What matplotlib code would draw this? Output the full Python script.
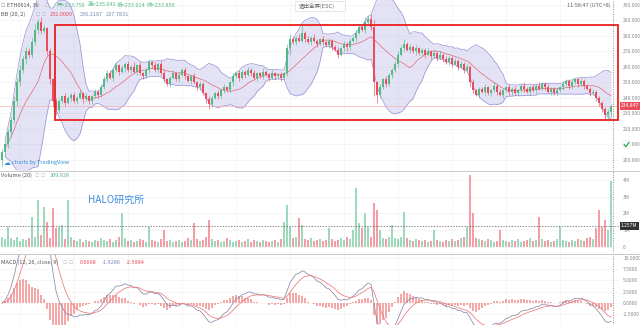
import numpy as np
import pandas as pd
import matplotlib
matplotlib.use("Agg")
import matplotlib.pyplot as plt
from matplotlib.patches import Rectangle, FancyBboxPatch
from matplotlib.lines import Line2D
from matplotlib.path import Path

plt.rcParams['font.family'] = ['Noto Sans CJK SC', 'DejaVu Sans']
plt.rcParams['axes.unicode_minus'] = False

# ---------------- data ----------------
closes = [
    # rally and first drop
    205, 210, 218, 226, 238, 250, 258, 265, 270, 268, 276, 284, 289, 283, 285, 270, 252, 238,
    # base around 240
    232, 238, 241, 237, 240, 242, 238, 240, 243, 239, 241, 238, 241, 244, 242,
    # climb
    247, 252, 256, 253, 258, 261, 257, 259, 262, 258, 260,
    # range 250-263
    257, 261, 256, 254, 258, 263, 261, 258, 262, 256, 252, 249, 253, 256, 252, 255, 258, 254,
    251, 254, 250, 247, 249,
    # dip
    243, 239, 236, 240, 243, 241, 245, 247, 245, 250,
    # range 253-258
    254, 256, 253, 257, 255, 258, 256, 253, 256, 254, 257, 255, 253, 256, 254, 255, 253, 256,
    # jump and plateau near 277
    272, 278, 276, 279, 277, 282, 278, 276, 279, 277, 275, 278, 276, 274, 277, 273, 271, 268,
    272, 275, 273, 277, 279,
    # push up and crash
    282, 286, 284, 289, 291, 286, 250,
    # recovery
    242, 247, 252, 249, 255, 258, 262, 268, 272,
    # slow fade 275 -> 258
    275, 271, 273, 270, 272, 269, 271, 268, 270, 267, 269, 266, 268, 265, 263, 266, 262, 264,
    260, 262, 258, 260, 250,
    # range 242-252
    245, 242, 246, 244, 247, 243, 245, 248, 244, 242, 245, 247, 244, 246, 243, 245, 248, 246,
    244, 247, 245, 248, 246, 249, 247, 244, 246, 243, 245, 247, 249, 251, 248, 250, 252, 249,
    251, 248, 246,
    # final decline
    243, 244, 240, 237, 233, 229, 231, 234.847]
first_open = 200
upper_wick = ("2322333232 3423212121 1211212121 1212222121 2121312112 1212211212 "
              "1211212112 1121211212 1121211211 2112133212 6121211212 1121212122 "
              "2323412121 1222312121 1121212121 1212121211 1211212112 1211211212 "
              "1121121211 2112111211 1121")
lower_wick = ("4323232232 2232123432 1212121212 2121121212 1212121212 2121212112 "
              "1212122123 2121211212 1212121212 1212124121 1212121212 2121232121 "
              "1212952121 2121212121 1212121212 2121213212 1212121212 2121212121 "
              "1212121212 2121212122 2323")
volumes_m = [0.6, 0.5, 1.2, 0.55, 0.4, 0.6, 0.35, 0.5, 0.4, 0.55,
             1.8, 0.6, 2.8, 0.7, 2.4, 1.5, 0.55, 2.3, 1.1, 1.2,
             1.3, 0.5, 2.8, 0.6, 0.4, 0.35, 0.5, 0.3, 0.4, 0.35,
             0.3, 0.4, 0.35, 0.55, 0.4, 0.35, 0.5, 0.3, 0.4, 0.6,
             2.0, 0.55, 0.35, 0.4, 0.3, 0.35, 0.5, 0.4, 0.3, 1.2,
             0.4, 0.35, 0.3, 0.5, 1.0, 0.35, 0.4, 0.3, 0.35, 0.4,
             0.3, 0.35, 0.55, 0.4, 1.4, 0.5, 0.35, 0.4, 0.6, 1.6,
             0.5, 0.35, 0.4, 0.3, 0.35, 0.55, 0.4, 0.3, 0.35, 0.4,
             0.3, 0.35, 0.5, 0.3, 0.4, 0.35, 0.3, 0.4, 0.35, 0.3,
             0.35, 0.4, 0.3, 0.5, 1.5, 2.5, 1.2, 0.55, 0.6, 1.7,
             1.3, 0.5, 0.4, 0.55, 0.35, 0.4, 0.5, 0.35, 0.4, 1.1,
             0.5, 0.35, 0.4, 0.55, 0.4, 0.6, 0.5, 1.0, 3.5, 1.4,
             1.1, 2.0, 1.2, 0.6, 2.6, 2.2, 1.0, 0.55, 0.5, 0.6,
             1.3, 0.55, 0.5, 0.6, 2.1, 0.55, 0.4, 0.35, 0.5, 0.4,
             0.35, 0.4, 0.3, 0.35, 1.0, 0.4, 0.35, 0.3, 0.4, 0.35,
             0.5, 0.35, 0.4, 0.55, 0.6, 1.2, 4.3, 2.0, 0.55, 0.5,
             0.4, 0.35, 0.5, 0.4, 0.3, 0.35, 1.0, 0.4, 0.35, 0.3,
             0.4, 0.35, 0.5, 0.3, 0.35, 0.4, 0.55, 0.35, 0.4, 1.8,
             0.5, 0.35, 0.4, 0.3, 0.35, 0.5, 1.2, 0.4, 0.35, 0.3,
             0.4, 0.35, 0.5, 0.4, 0.35, 0.55, 0.6, 0.5, 1.1, 2.2,
             1.2, 1.6, 1.0, 3.9]

price_ticks = [200, 210, 220, 230, 240, 250, 260, 270, 280, 290, 300]
vol_ticks = [0, 1, 2, 3, 4]
macd_ticks = [-2.5, 0, 2.5, 5, 7.5, 10]
box_low, box_high, box_start = 226.0, 287.0, 17.7
crosshair_vol = 1.257
last_price = 234.847
# each drawn candle spans ~1.5 bars of the source chart, so the
# indicator windows are scaled to cover the same stretch of time
bb_window, bb_mult = 13, 2
macd_fast, macd_slow, macd_sig = 8, 17, 6

# ---------------- derived series ----------------
c = np.array(closes, dtype=float)
o = np.concatenate([[first_open], c[:-1]])
uw = np.array([int(ch) for ch in upper_wick.replace(' ', '')], dtype=float)
lw = np.array([int(ch) for ch in lower_wick.replace(' ', '')], dtype=float)
h = np.maximum(o, c) + uw
l = np.minimum(o, c) - lw
v = np.array(volumes_m)
n = len(c)
idx = np.arange(n)
up = c >= o

s = pd.Series(c)
bb_mid = s.rolling(bb_window, min_periods=2).mean()
bb_std = s.rolling(bb_window, min_periods=2).std(ddof=0)
bb_up = bb_mid + bb_mult * bb_std
bb_lo = bb_mid - bb_mult * bb_std

ema_f = s.ewm(span=macd_fast, adjust=False).mean()
ema_s = s.ewm(span=macd_slow, adjust=False).mean()
macd = ema_f - ema_s
signal = macd.ewm(span=macd_sig, adjust=False).mean()
hist = macd - signal

UP = '#53b987'
DN = '#eb4d5c'
GRID = '#f3f3f3'
LBL = '#8a8a8a'

W, H = 640, 325
fig = plt.figure(figsize=(6.4, 3.25), dpi=100)
fig.patch.set_facecolor('white')


def px_axes(top, bottom, left=0, right=619):
    return fig.add_axes([left / W, 1 - bottom / H, (right - left) / W, (bottom - top) / H])


ax1 = px_axes(0, 170)
ax2 = px_axes(171, 253)
ax3 = px_axes(254, 325)

xlim = (-0.67, 205.67)
for ax in (ax1, ax2, ax3):
    ax.set_xlim(*xlim)
    ax.set_facecolor('white')
    for sp in ax.spines.values():
        sp.set_visible(False)
    ax.yaxis.tick_right()
    ax.tick_params(axis='y', length=0, pad=3, labelsize=3.6, labelcolor=LBL)
    ax.tick_params(axis='x', length=0, labelbottom=False)
    ax.set_xticks(np.arange(6, n, 18))
    ax.grid(True, color=GRID, lw=0.5)
    ax.set_axisbelow(True)

# ---- price panel ----
ax1.set_ylim(193.5, 303.2)
ax1.set_yticks(price_ticks)
ax1.set_yticklabels([f'{t:.3f}' for t in price_ticks])
ax1.fill_between(idx, bb_lo, bb_up, color='#a8a4e0', alpha=0.3, lw=0, zorder=1)
ax1.plot(idx, bb_up, color='#9490d8', lw=0.5, zorder=2)
ax1.plot(idx, bb_lo, color='#9490d8', lw=0.5, zorder=2)
ax1.plot(idx, bb_mid, color='#e06a78', lw=0.5, zorder=2)
colors = np.where(up, UP, DN)
ax1.vlines(idx, l, h, colors=colors, lw=0.45, zorder=3)
body_lo = np.minimum(o, c)
body_h = np.maximum(np.abs(c - o), 0.4)
ax1.bar(idx, body_h, bottom=body_lo, width=0.65, color=colors, lw=0, zorder=4)
ax1.axhline(last_price, color='#f4b0b0', lw=0.5, zorder=2)
ax1.add_patch(Rectangle((box_start, box_low), xlim[1] - 0.33 - box_start, box_high - box_low,
                        fill=False, ec='#e8201e', lw=1.3, zorder=6, clip_on=False))

# ---- volume panel ----
ax2.set_ylim(-0.36, 4.52)
ax2.set_yticks(vol_ticks)
ax2.set_yticklabels(['0' if t == 0 else f'{t}M' for t in vol_ticks])
ax2.bar(idx, v, width=0.65, color=np.where(up, UP, DN), alpha=0.55, lw=0, zorder=3)
ax2.axhline(crosshair_vol, color='#555555', lw=0.5, ls=(0, (2, 2)), zorder=4)

# ---- MACD panel ----
ax3.set_ylim(-4.84, 10.77)
ax3.set_yticks(macd_ticks)
ax3.set_yticklabels([f'{t:.4f}' for t in macd_ticks])
ax3.bar(idx, hist, width=0.75, color='#f28b8b', alpha=0.75, lw=0, zorder=3)
ax3.plot(idx, macd, color='#8a88a8', lw=0.55, zorder=4)
ax3.plot(idx, signal, color='#ec7a7a', lw=0.55, zorder=4)

# ---- crosshair vertical ----
for ax in (ax1, ax2, ax3):
    ax.axvline(203.67, color='#666666', lw=0.5, ls=(0, (1.5, 2)), zorder=7)

# separators
for yy in (170.5, 253.5):
    fig.add_artist(Line2D([0, 1], [1 - yy / H, 1 - yy / H], color='#c8c8c8', lw=0.7))


# ---- texts ----
def ftxt(x, y, s, **kw):
    kw.setdefault('fontsize', 4)
    kw.setdefault('va', 'center')
    kw.setdefault('ha', 'left')
    fig.text(x / W, 1 - y / H, s, **kw)


ftxt(1, 5.5, '☐', color='#999999', fontsize=3.5, family=['DejaVu Sans'])
ftxt(7, 5.5, 'ETH0614, 30', color='#555555')
ftxt(45, 5.5, '☐', color='#bbbbbb', fontsize=3.5, family=['DejaVu Sans'])
ftxt(57, 5.5, '开=233.750', color=UP)
ftxt(88, 5.5, '高=235.041', color=UP)
ftxt(117, 5.5, '低=233.014', color=UP)
ftxt(147, 5.5, '收=233.850', color=UP)
ftxt(1, 14.5, 'BB (20, 2)', color='#555555')
ftxt(36, 14.5, '☐ ☐', color='#bbbbbb', fontsize=3.5, family=['DejaVu Sans'])
ftxt(50, 14.5, '232.0009', color=DN)
ftxt(80, 14.5, '236.2187', color='#7d8ab5')
ftxt(106, 14.5, '227.7831', color='#7d8ab5')

fig.add_artist(FancyBboxPatch((295 / W, 1 - 11 / H), 50 / W, 10 / H, boxstyle='square,pad=0',
                              transform=fig.transFigure, fc='white', ec='#dddddd', lw=0.5))
ftxt(299, 5.5, '退出全屏(ESC)', color='#666666')
ftxt(611, 5.5, '11:58:47 (UTC+8)', color='#666666', ha='right')

ftxt(4, 163, '☁', color='#2f8fd8', fontsize=5, family=['DejaVu Sans'])
ftxt(12, 163, 'charts by TradingView', color='#2f8fd8')

ftxt(1, 175.5, 'Volume (20)', color='#555555')
ftxt(35, 175.5, '☐ ☐', color='#bbbbbb', fontsize=3.5, family=['DejaVu Sans'])
ftxt(50, 175.5, '309.92K', color=UP)
ftxt(88, 200, 'HALO研究所', color='#3d8fe0', fontsize=7.2)

ftxt(1, 262, 'MACD (12, 26, close, 9)', color='#555555')
ftxt(63, 262, '☐ ☐', color='#bbbbbb', fontsize=3.5, family=['DejaVu Sans'])
ftxt(80, 262, '0.6698', color=DN)
ftxt(102, 262, '-1.9286', color='#7d8ab5')
ftxt(126, 262, '-2.5984', color=DN)

# right-axis tags
y_last = ax1.transData.transform((0, last_price))[1]
fig.text(621 / W, y_last / fig.dpi / 3.25, f'{last_price:.3f}', fontsize=3.6, color='white',
         va='center', ha='left', bbox=dict(boxstyle='square,pad=0.25', fc=DN, ec='none'))
y_vol = ax2.transData.transform((0, crosshair_vol))[1]
fig.text(621 / W, y_vol / fig.dpi / 3.25, '1.257M', fontsize=3.6, color='white',
         va='center', ha='left', bbox=dict(boxstyle='square,pad=0.25', fc='#333333', ec='none'))

# green check badge (drawn as markers)
cx, cy = 626 / W, 1 - 144 / H
fig.add_artist(Line2D([cx], [cy], transform=fig.transFigure, marker='o', ms=6.5,
                      mfc='white', mec='#e6e6e6', mew=0.5))
check = Path([(-0.5, 0.05), (-0.12, -0.4), (0.5, 0.45)],
             [Path.MOVETO, Path.LINETO, Path.LINETO])
fig.add_artist(Line2D([cx], [cy], transform=fig.transFigure, marker=check, ms=4,
                      mfc='none', mec='#2fb560', mew=1.0))

fig.savefig('out.png', dpi=100, facecolor='white')
